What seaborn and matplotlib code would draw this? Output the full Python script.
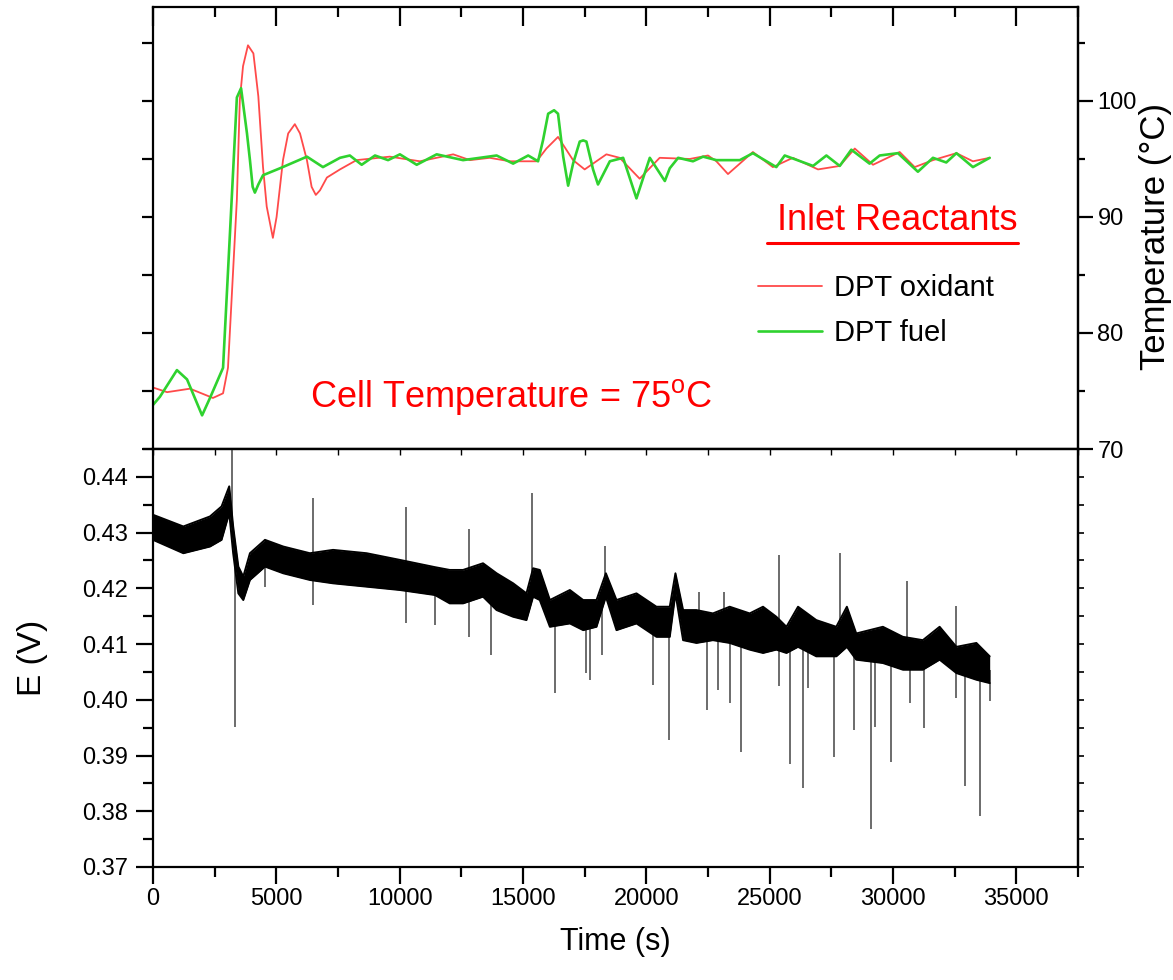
import numpy as np
import pandas as pd
import matplotlib.pyplot as plt
import seaborn as sns
from matplotlib.ticker import MultipleLocator, FixedLocator, FormatStrFormatter
from matplotlib.lines import Line2D

# ==============================================================================
# Temperatura de reactivos a la entrada y voltaje de celda vs tiempo
# (valores leidos a mano de la figura original)
# ==============================================================================

# --- panel superior: temperatura de entrada (C) ---
ox_time = [0, 570, 1500, 2430, 2840, 3040, 3400, 3520, 3650, 3850, 4070, 4130, 4270,
           4460, 4610, 4860, 5010, 5270, 5480, 5750, 5960, 6240, 6430, 6600, 6770,
           7050, 7580, 8250, 9600, 10820, 12170, 12850, 13650, 14470, 15550, 15950,
           16420, 17030, 17500, 18380, 18920, 19730, 20540, 21760, 22500, 22840,
           23310, 23790, 24320, 25130, 25940, 26960, 27840, 28450, 29190, 30270,
           30880, 31620, 32570, 33240, 33920]
ox_temp = [75.3, 74.9, 75.2, 74.4, 74.8, 77.0, 91.5, 100.1, 103.0, 104.8, 104.1, 103.0,
           100.4, 94.3, 90.9, 88.2, 90.0, 94.9, 97.2, 98.0, 97.2, 94.9, 92.6, 91.9,
           92.3, 93.4, 94.1, 94.9, 95.2, 94.8, 95.4, 94.9, 95.1, 94.8, 94.8, 95.9,
           96.9, 94.9, 94.1, 95.4, 95.1, 93.3, 95.1, 95.0, 95.3, 94.8, 93.7, 94.6,
           95.6, 94.3, 95.1, 94.1, 94.4, 95.9, 94.5, 95.6, 94.3, 94.9, 95.5, 94.8,
           95.1]

fuel_time = [0, 280, 970, 1380, 1990, 2310, 2840, 3120, 3400, 3570, 3810, 3930, 4040,
             4130, 4270, 4460, 5150, 6240, 6890, 7580, 7980, 8460, 9000, 9530, 10010,
             10690, 11500, 12570, 13930, 14600, 15210, 15610, 15810, 16020, 16260,
             16420, 16630, 16830, 17030, 17300, 17440, 17570, 17840, 18040, 18520,
             19060, 19600, 20140, 20750, 20950, 21290, 21890, 22300, 22840, 23790,
             24320, 25270, 25610, 26760, 27300, 27840, 28310, 29050, 29460, 30200,
             31010, 31620, 32160, 32570, 33240, 33920]
fuel_temp = [73.8, 74.5, 76.8, 76.0, 72.9, 74.4, 77.0, 88.6, 100.3, 101.1, 97.2, 94.9,
             92.6, 92.1, 92.8, 93.6, 94.2, 95.2, 94.3, 95.1, 95.3, 94.5, 95.3, 94.9,
             95.4, 94.5, 95.4, 94.9, 95.3, 94.6, 95.3, 94.8, 96.6, 98.9, 99.2, 98.9,
             95.2, 92.7, 94.6, 96.5, 96.6, 96.5, 94.1, 92.8, 94.8, 95.1, 91.6, 95.1,
             93.1, 94.2, 95.1, 94.8, 95.2, 94.9, 94.9, 95.5, 94.3, 95.3, 94.4, 95.3,
             94.4, 95.8, 94.6, 95.3, 95.5, 93.9, 95.1, 94.7, 95.5, 94.3, 95.1]

# --- panel inferior: voltaje de celda (banda de ruido, envolventes) ---
e_time = [0, 1230, 2310, 2780, 3090, 3250, 3460, 3660, 3930, 4540, 5280, 6360, 7300,
          8660, 10010, 11430, 12030, 12570, 13380, 13930, 14600, 15140, 15410, 15680,
          16090, 16900, 17440, 17980, 18360, 18790, 19600, 20410, 20950, 21180, 21490,
          22030, 22700, 23380, 24190, 24730, 25270, 25680, 26150, 26890, 27700, 28130,
          28510, 29590, 30400, 31210, 31890, 32570, 33380, 33920]
e_upper = [0.4332, 0.4311, 0.4329, 0.4347, 0.4383, 0.4311, 0.4239, 0.4221, 0.4263,
           0.4287, 0.4275, 0.4263, 0.4269, 0.4263, 0.4251, 0.4238, 0.4233, 0.4233,
           0.4245, 0.4227, 0.4209, 0.4191, 0.4236, 0.4233, 0.4179, 0.4197, 0.4179,
           0.4179, 0.4227, 0.4179, 0.4191, 0.4167, 0.4167, 0.4227, 0.4161, 0.4161,
           0.4155, 0.4167, 0.4155, 0.4167, 0.4149, 0.4131, 0.4167, 0.4143, 0.4131,
           0.4167, 0.4119, 0.4131, 0.4113, 0.4107, 0.4131, 0.4095, 0.4102, 0.4078]
e_lower = [0.4287, 0.4263, 0.4275, 0.4287, 0.4335, 0.4263, 0.4191, 0.4179, 0.4215,
           0.4239, 0.4227, 0.4215, 0.4209, 0.4203, 0.4197, 0.4188, 0.4173, 0.4173,
           0.4185, 0.4161, 0.4149, 0.4143, 0.4185, 0.4179, 0.4131, 0.4137, 0.4125,
           0.4131, 0.4185, 0.4125, 0.4137, 0.4113, 0.4113, 0.4191, 0.4107, 0.4102,
           0.4107, 0.4102, 0.4090, 0.4084, 0.4090, 0.4084, 0.4095, 0.4078, 0.4078,
           0.4095, 0.4072, 0.4066, 0.4054, 0.4054, 0.4072, 0.4048, 0.4036, 0.4030]

# picos aislados (tiempo, valor extremo)
spike_time = [3190, 3310, 4560, 6500, 6500, 10250, 10250, 11430, 12800, 12800, 13720,
              15380, 16290, 17570, 17710, 18220, 18320, 20270, 20910, 22140, 22460,
              22910, 23140, 23410, 23850, 25370, 25370, 25810, 26350, 26550, 27610,
              27840, 28420, 29090, 29260, 29930, 30580, 30670, 31250, 32540, 32540,
              32900, 33540, 33920]
spike_volt = [0.446, 0.3951, 0.4203, 0.4362, 0.4170, 0.4346, 0.4138, 0.4135, 0.4307,
              0.4113, 0.4081, 0.4371, 0.4012, 0.4048, 0.4036, 0.4081, 0.4276, 0.4027,
              0.3928, 0.4194, 0.3982, 0.4018, 0.4194, 0.3994, 0.3907, 0.4260, 0.4024,
              0.3884, 0.3842, 0.4021, 0.3898, 0.4264, 0.3946, 0.3768, 0.3952, 0.3888,
              0.4213, 0.3994, 0.3949, 0.4169, 0.4003, 0.3845, 0.3792, 0.3997]

RED = '#ff4a4a'
GREEN = '#2fd22f'

sns.set_theme(style="ticks")
plt.rcParams['font.family'] = ['Liberation Sans', 'DejaVu Sans']
plt.rcParams['mathtext.fontset'] = 'custom'
plt.rcParams['mathtext.rm'] = 'Liberation Sans'
plt.rcParams['axes.linewidth'] = 1.6
plt.rcParams['axes.edgecolor'] = 'black'
plt.rcParams['text.color'] = 'black'
plt.rcParams['axes.labelcolor'] = 'black'
plt.rcParams['xtick.labelsize'] = 17
plt.rcParams['ytick.labelsize'] = 17
plt.rcParams['xtick.color'] = 'black'
plt.rcParams['ytick.color'] = 'black'

fig = plt.figure(figsize=(11.73, 9.8), dpi=100)
L, R = 153 / 1173, 1078 / 1173
ax_t = fig.add_axes([L, 1 - 449 / 980, R - L, 442 / 980])
ax_e = fig.add_axes([L, 1 - 867 / 980, R - L, 418 / 980])

# ---------------- panel superior ----------------
df_t = pd.concat([
    pd.DataFrame({'Time (s)': ox_time, 'T': ox_temp, 'serie': 'DPT oxidant'}),
    pd.DataFrame({'Time (s)': fuel_time, 'T': fuel_temp, 'serie': 'DPT fuel'}),
])
sns.lineplot(data=df_t, x='Time (s)', y='T', hue='serie', size='serie',
             sizes={'DPT oxidant': 1.3, 'DPT fuel': 1.9},
             palette={'DPT oxidant': RED, 'DPT fuel': GREEN},
             estimator=None, sort=False, legend=False, ax=ax_t)
ax_t.set_xlim(0, 37500)
ax_t.set_ylim(70, 108.1)
ax_t.set_xlabel('')
ax_t.set_ylabel('')
ax_t.xaxis.set_major_locator(MultipleLocator(5000))
ax_t.xaxis.set_minor_locator(MultipleLocator(2500))
ax_t.tick_params(axis='x', which='both', top=True, bottom=False, direction='in',
                 labelbottom=False, labeltop=False, width=1.6)
ax_t.tick_params(axis='x', which='major', length=14)
ax_t.tick_params(axis='x', which='minor', length=7)
ax_t.yaxis.set_major_locator(MultipleLocator(5))
ax_t.tick_params(axis='y', which='both', left=True, right=False, labelleft=False,
                 direction='out', length=8, width=1.6)

sec = ax_t.secondary_yaxis('right')
sec.yaxis.set_major_locator(FixedLocator([70, 80, 90, 100]))
sec.yaxis.set_minor_locator(FixedLocator([75, 85, 95, 105]))
sec.tick_params(axis='y', which='major', length=11, width=1.6, pad=3)
sec.tick_params(axis='y', which='minor', length=5, width=1.6)
sec.spines['right'].set_linewidth(1.6)

ax_t.text(0.1697, 0.095, 'Cell Temperature = 75$^{\\mathrm{o}}$C', color='red',
          fontsize=26, transform=ax_t.transAxes, va='baseline')
inlet = ax_t.text(0.664, 0.4955, ' Inlet Reactants', color='red', fontsize=26,
                  transform=ax_t.transAxes, va='baseline')

handles = [Line2D([], [], color=RED, lw=1.3), Line2D([], [], color=GREEN, lw=1.9)]
ax_t.legend(handles, ['DPT oxidant', 'DPT fuel'], loc='center left',
            bbox_to_anchor=(0.654, 0.313), frameon=False,
            prop={'size': 21}, handlelength=2.2, labelcolor='black',
            handletextpad=0.4, labelspacing=0.6, borderpad=0, borderaxespad=0)

# ---------------- panel inferior ----------------
base = np.interp(spike_time, e_time, (np.array(e_upper) + np.array(e_lower)) / 2)
ax_e.vlines(spike_time, base, spike_volt, color='#444444', lw=1.1, zorder=1)
ax_e.fill_between(e_time, e_lower, e_upper, color='black', lw=0, zorder=2)
sns.lineplot(x=e_time, y=e_upper, color='black', lw=1.4, ax=ax_e, zorder=3)
sns.lineplot(x=e_time, y=e_lower, color='black', lw=1.4, ax=ax_e, zorder=3)
ax_e.set_xlim(0, 37500)
ax_e.set_ylim(0.37, 0.445)
ax_e.xaxis.set_major_locator(MultipleLocator(5000))
ax_e.xaxis.set_minor_locator(MultipleLocator(2500))
ax_e.yaxis.set_major_locator(MultipleLocator(0.01))
ax_e.yaxis.set_minor_locator(MultipleLocator(0.005))
ax_e.yaxis.set_major_formatter(FormatStrFormatter('%.2f'))
ax_e.tick_params(axis='both', which='both', direction='out', width=1.6,
                 top=False, right=False)
ax_e.tick_params(axis='both', which='major', length=12)
ax_e.tick_params(axis='both', which='minor', length=7)
ax_e.tick_params(axis='y', which='major', pad=6)
ax_e.tick_params(axis='x', which='major', pad=3)

sec_r = ax_e.secondary_yaxis('right')
sec_r.yaxis.set_major_locator(MultipleLocator(0.005))
sec_r.tick_params(axis='y', which='both', length=4, width=1.2, labelright=False)
sec_r.spines['right'].set_linewidth(1.6)
sec_top = ax_e.secondary_xaxis('top')
sec_top.xaxis.set_major_locator(MultipleLocator(2500))
sec_top.tick_params(axis='x', which='both', direction='in', length=4, width=1.0,
                    labeltop=False)
sec_top.spines['top'].set_linewidth(1.6)

# etiquetas de ejes
fig.text(32 / 1173, 1 - 658 / 980, 'E (V)', rotation=90, ha='center', va='center',
         fontsize=24)
fig.text(615 / 1173, 1 - 942 / 980, 'Time (s)', ha='center', va='center',
         fontsize=22)
fig.text(1155 / 1173, 1 - 236 / 980, 'Temperature (\u00b0C)', rotation=90,
         ha='center', va='center', fontsize=25)

# subrayado de "Inlet Reactants" a partir de la caja del texto
fig.canvas.draw()
bb = inlet.get_window_extent()
W, H = fig.bbox.width, fig.bbox.height
yline = (bb.y0 - 5) / H
fig.add_artist(Line2D([bb.x0 / W, bb.x1 / W], [yline, yline], color='red', lw=2.2))

fig.savefig('out.png', dpi=100)
plt.close()
